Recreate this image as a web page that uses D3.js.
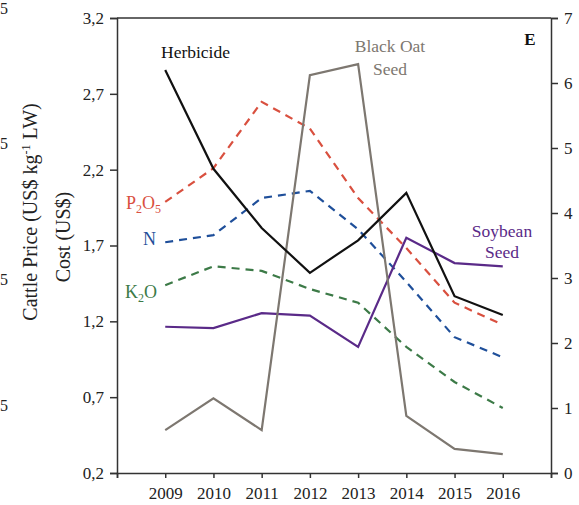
<!DOCTYPE html>
<html><head><meta charset="utf-8">
<script src="https://cdn.jsdelivr.net/npm/d3@7"></script>
<style>body{margin:0;background:#fff}svg{display:block}svg text{font-family:'Liberation Serif','Times New Roman',Tinos,'DejaVu Serif',serif !important}</style>
</head><body><svg id="c" width="579" height="505"></svg>
<script>
const years = [2009,2010,2011,2012,2013,2014,2015,2016];
const herbicide = [6.2,4.68,3.77,3.08,3.58,4.31,2.72,2.43];
const p2o5 = [4.17,4.69,5.71,5.3,4.23,3.46,2.62,2.28];
const nitrogen = [3.55,3.66,4.23,4.34,3.75,2.94,2.09,1.78];
const k2o = [2.89,3.18,3.11,2.83,2.62,1.94,1.40,1.0];
const soybeanSeed = [2.25,2.23,2.46,2.42,1.94,3.62,3.23,3.18];
const blackOatSeed = [0.66,1.15,0.66,6.12,6.29,0.88,0.37,0.29];
const leftTicks = [0.2,0.7,1.2,1.7,2.2,2.7,3.2];
const rightTicks = [0,1,2,3,4,5,6,7];

const FONT = "'Liberation Serif','Times New Roman',Tinos,'DejaVu Serif',serif";
const svg = d3.select("#c").attr("font-family",FONT);
const L=117,R=551,T=18,B=473;
const x = d3.scaleLinear().domain([2008,2017]).range([L,R]);
const yL = d3.scaleLinear().domain([0.2,3.2]).range([B,T]);
const yR = d3.scaleLinear().domain([0,7]).range([B,T]);
const axisColor="#333";

svg.append("line").attr("x1",L).attr("x2",R).attr("y1",T).attr("y2",T).attr("stroke",axisColor).attr("stroke-width",1.5);

const fmt = d => d.toFixed(1).replace(".",",");
const gl = svg.append("g").attr("transform",`translate(${L},0)`)
  .call(d3.axisLeft(yL).tickValues(leftTicks).tickFormat(fmt).tickSizeOuter(0).tickSize(7).tickPadding(6));
const gr = svg.append("g").attr("transform",`translate(${R},0)`)
  .call(d3.axisRight(yR).tickValues(rightTicks).tickFormat(d3.format("d")).tickSizeOuter(0).tickSize(7).tickPadding(6));
const gx = svg.append("g").attr("transform",`translate(0,${B})`)
  .call(d3.axisBottom(x).tickValues([2008,...years,2017]).tickFormat(d=>(d===2008||d===2017)?"":d).tickSizeOuter(0).tickSize(5).tickPadding(9));
[gl,gr,gx].forEach(g=>{
  g.attr("font-family",FONT);
  g.selectAll("path,line").attr("stroke",axisColor).attr("stroke-width",1.5);
  g.selectAll("text").attr("font-size",17).attr("fill","#222").attr("font-family",FONT);
});

const line = d3.line().x((d,i)=>x(years[i])).y(d=>yR(d));
const series = [
  {v:p2o5,c:"#d9503f",dash:"8,6"},
  {v:nitrogen,c:"#1f4f9a",dash:"8,6"},
  {v:k2o,c:"#3c7a47",dash:"8,6"},
  {v:soybeanSeed,c:"#5a2a88",dash:null},
  {v:blackOatSeed,c:"#7d7770",dash:null},
  {v:herbicide,c:"#111",dash:null}
];
series.forEach(s=>{
  svg.append("path").datum(s.v).attr("d",line).attr("fill","none")
    .attr("stroke",s.c).attr("stroke-width",2.2).attr("stroke-dasharray",s.dash);
});

function label(txt,xp,yp,col,size,anchor,weight){
  return svg.append("text").attr("x",xp).attr("y",yp).attr("fill",col).attr("font-size",size||15)
    .attr("font-family",FONT)
    .attr("text-anchor",anchor||"start").attr("font-weight",weight||"normal").text(txt);
}
label("Herbicide",161,58,"#111",17.5);
label("Black Oat",390,52,"#7d7770",17.5,"middle");
label("Seed",390,75,"#7d7770",17.5,"middle");
label("E",530,45,"#111",17,"middle","bold");
label("Soybean",502,237,"#5a2a88",17.5,"middle");
label("Seed",502,258,"#5a2a88",17.5,"middle");
label("N",143,245,"#1f4f9a",18);
const p = svg.append("text").attr("x",126).attr("y",209).attr("fill","#d9503f").attr("font-size",18);
p.append("tspan").text("P");
p.append("tspan").attr("font-size",12).attr("dy",4).text("2");
p.append("tspan").attr("dy",-4).text("O");
p.append("tspan").attr("font-size",12).attr("dy",4).text("5");
const k = svg.append("text").attr("x",125).attr("y",298).attr("fill","#3c7a47").attr("font-size",18);
k.append("tspan").text("K");
k.append("tspan").attr("font-size",12).attr("dy",4).text("2");
k.append("tspan").attr("dy",-4).text("O");

const t1 = svg.append("text").attr("transform","translate(37,212) rotate(-90)").attr("text-anchor","middle").attr("font-size",20).attr("fill","#222");
t1.append("tspan").text("Cattle Price (US$ kg");
t1.append("tspan").attr("font-size",12).attr("dy",-7).text("-1");
t1.append("tspan").attr("dy",7).text(" LW)");
svg.append("text").attr("transform","translate(70,237) rotate(-90)").attr("text-anchor","middle").attr("font-size",20).attr("fill","#222").text("Cost (US$)");

[8,143,279,405].forEach(yy=>{
  svg.append("text").attr("x",0).attr("y",yy+6).attr("font-size",16).attr("fill","#222").text("5");
});
</script></body></html>
